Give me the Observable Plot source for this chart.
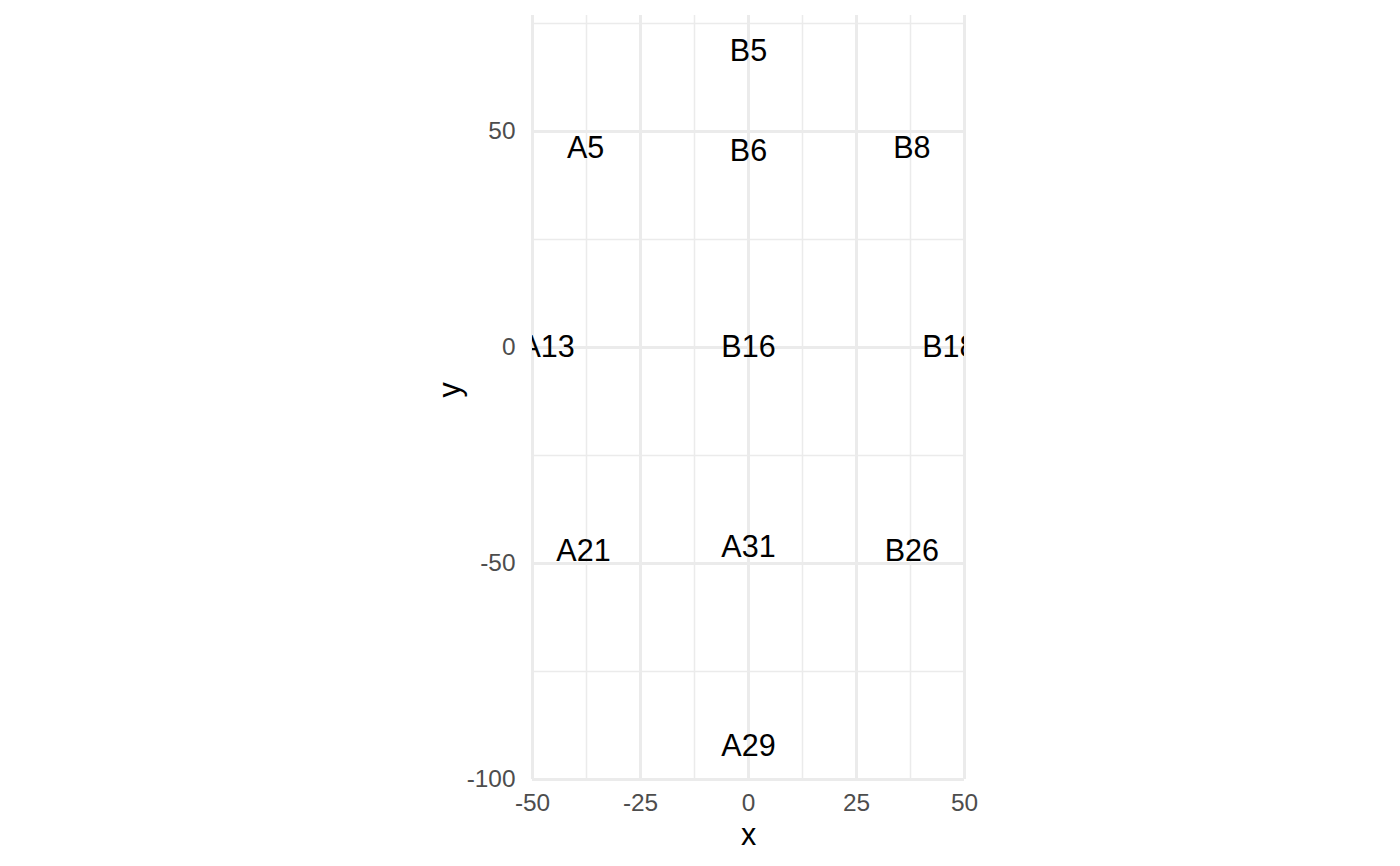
<!DOCTYPE html>
<html>
<head>
<meta charset="utf-8">
<script src="https://cdn.jsdelivr.net/npm/d3@7"></script>
<script src="https://cdn.jsdelivr.net/npm/@observablehq/plot@0.6"></script>
<style>
  html, body { margin: 0; padding: 0; background: #ffffff; }
  #chart svg { display: block; }
</style>
</head>
<body>
<div id="chart"></div>
<script>
// Data
const labels = ["B5", "A5", "B6", "B8", "A13", "B16", "B18", "A21", "A31", "B26", "A29"];
const xs     = [0, -37.7, 0, 37.8, -46.5, 0, 46.5, -38.2, 0, 37.8, 0];
const ys     = [68.6, 46.2, 45.4, 46.2, 0, 0, 0, -47.2, -46.3, -47.2, -92.4];

const xMajor = [-50, -25, 0, 25, 50];
const xMinor = [-37.5, -12.5, 12.5, 37.5];
const yMajor = [-100, -50, 0, 50];
const yMinor = [-75, -25, 25, 75];

const points = labels.map((l, i) => ({label: l, x: xs[i], y: ys[i]}));

const gridColor = "#EBEBEB";
const tickColor = "#4D4D4D";
const fmt = d => String(d);

const chart = Plot.plot({
  width: 1400,
  height: 866,
  marginLeft: 532,
  marginRight: 436,
  marginTop: 15,
  marginBottom: 87,
  style: {fontFamily: "'Liberation Sans', Arial, sans-serif", background: "#ffffff"},
  x: {domain: [-50, 50]},
  y: {domain: [-100, 76.85]},
  marks: [
    Plot.ruleX(xMinor, {stroke: gridColor, strokeWidth: 1.5}),
    Plot.ruleY(yMinor, {stroke: gridColor, strokeWidth: 1.5}),
    Plot.ruleX(xMajor, {stroke: gridColor, strokeWidth: 3}),
    Plot.ruleY(yMajor, {stroke: gridColor, strokeWidth: 3}),
    Plot.axisX({ticks: xMajor, tickFormat: fmt, tickSize: 0, tickPadding: 14.5, fontSize: 24.4, color: tickColor, label: null}),
    Plot.axisY({ticks: yMajor, tickFormat: fmt, tickSize: 0, tickPadding: 17, fontSize: 24.4, color: tickColor, label: null}),
    Plot.text(points, {x: "x", y: "y", text: "label", fontSize: 30.5, fill: "#000000", clip: true}),
    Plot.text(["x"], {frameAnchor: "bottom", lineAnchor: "middle", text: d => d, dy: 56, fontSize: 30.5, fill: "#000000"}),
    Plot.text(["y"], {frameAnchor: "left", lineAnchor: "middle", text: d => d, dx: -82, rotate: -90, fontSize: 30.5, fill: "#000000"})
  ]
});

document.getElementById("chart").appendChild(chart);
</script>
</body>
</html>
